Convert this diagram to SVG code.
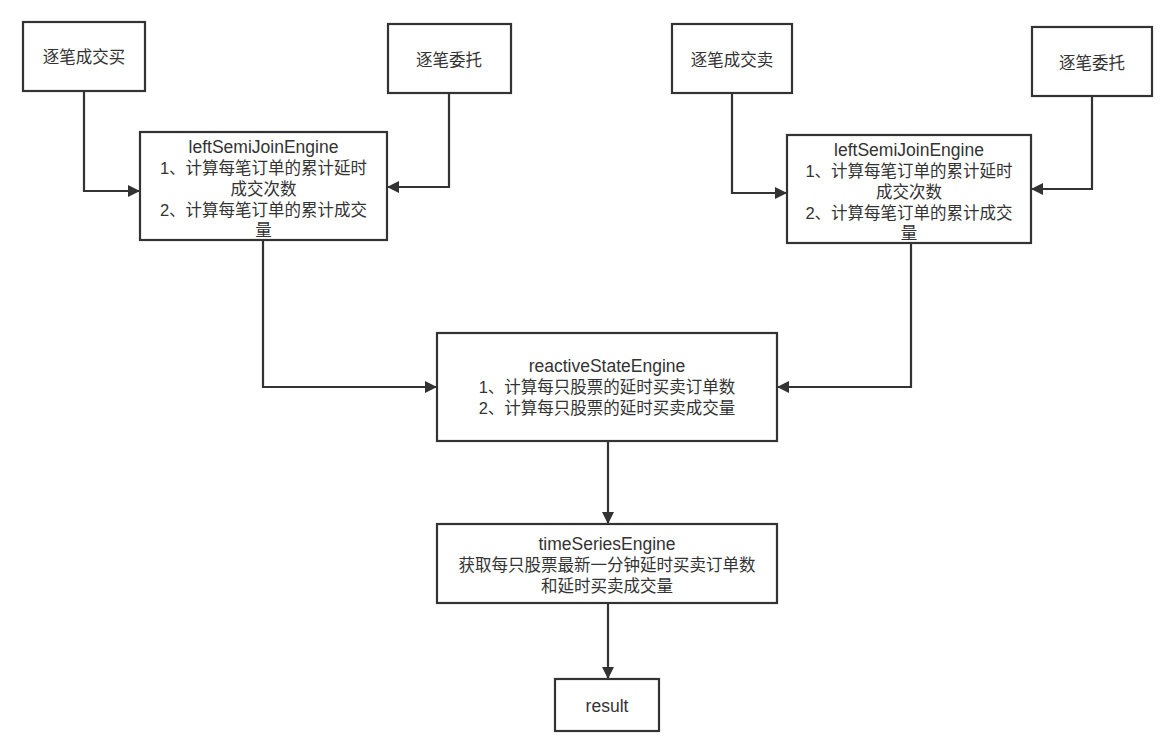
<svg xmlns="http://www.w3.org/2000/svg" width="1170" height="741" viewBox="0 0 1170 741">
<style>
.box{fill:#fff;stroke:#333;stroke-width:2.2}
.t{font-family:"Liberation Sans","Noto Sans CJK SC",sans-serif;font-size:16.5px;fill:#333;text-anchor:middle;dominant-baseline:central}
.e{font-size:17.5px}
.c{fill:none;stroke:#333;stroke-width:2.2}
</style>
<defs>
<marker id="arr" viewBox="0 0 12 12" refX="12" refY="6" markerWidth="12" markerHeight="12" markerUnits="userSpaceOnUse" orient="auto">
<path d="M0,0 L12,6 L0,12 Z" fill="#333"/>
</marker>
</defs>
<rect width="1170" height="741" fill="#fff"/>
<g id="connectors">
<path class="c" d="M84,91 V191 H140" marker-end="url(#arr)"/>
<path class="c" d="M449,93 V187 H387" marker-end="url(#arr)"/>
<path class="c" d="M732,93 V193 H787" marker-end="url(#arr)"/>
<path class="c" d="M1092,96 V189 H1031" marker-end="url(#arr)"/>
<path class="c" d="M263,240 V387 H437" marker-end="url(#arr)"/>
<path class="c" d="M911,243 V387 H777" marker-end="url(#arr)"/>
<path class="c" d="M608,441 V524" marker-end="url(#arr)"/>
<path class="c" d="M608,603 V679" marker-end="url(#arr)"/>
</g>
<g id="buy">
<rect class="box" x="23" y="22" width="122" height="69"/>
<text class="t" x="84" y="57">逐笔成交买</text>
</g>
<g id="order-left">
<rect class="box" x="388" y="24" width="123" height="69"/>
<text class="t" x="449" y="60">逐笔委托</text>
</g>
<g id="sell">
<rect class="box" x="672" y="24" width="120" height="69"/>
<text class="t" x="732" y="60">逐笔成交卖</text>
</g>
<g id="order-right">
<rect class="box" x="1032" y="27" width="120" height="69"/>
<text class="t" x="1092" y="63">逐笔委托</text>
</g>
<g id="lsj-left">
<rect class="box" x="140" y="132" width="247" height="108"/>
<text class="t e" x="263.5" y="147">leftSemiJoinEngine</text>
<text class="t" x="263.5" y="168">1、计算每笔订单的累计延时</text>
<text class="t" x="263.5" y="189">成交次数</text>
<text class="t" x="263.5" y="210">2、计算每笔订单的累计成交</text>
<text class="t" x="263.5" y="230">量</text>
</g>
<g id="lsj-right">
<rect class="box" x="787" y="135" width="244" height="108"/>
<text class="t e" x="909" y="150">leftSemiJoinEngine</text>
<text class="t" x="909" y="171">1、计算每笔订单的累计延时</text>
<text class="t" x="909" y="192">成交次数</text>
<text class="t" x="909" y="213">2、计算每笔订单的累计成交</text>
<text class="t" x="909" y="233">量</text>
</g>
<g id="reactive">
<rect class="box" x="437" y="333" width="340" height="108"/>
<text class="t e" x="607" y="366">reactiveStateEngine</text>
<text class="t" x="607" y="387">1、计算每只股票的延时买卖订单数</text>
<text class="t" x="607" y="408">2、计算每只股票的延时买卖成交量</text>
</g>
<g id="timeseries">
<rect class="box" x="437" y="524" width="340" height="79"/>
<text class="t e" x="607" y="544">timeSeriesEngine</text>
<text class="t" x="607" y="565">获取每只股票最新一分钟延时买卖订单数</text>
<text class="t" x="607" y="586">和延时买卖成交量</text>
</g>
<g id="result">
<rect class="box" x="555" y="679" width="104" height="52"/>
<text class="t e" x="607" y="706">result</text>
</g>
</svg>
